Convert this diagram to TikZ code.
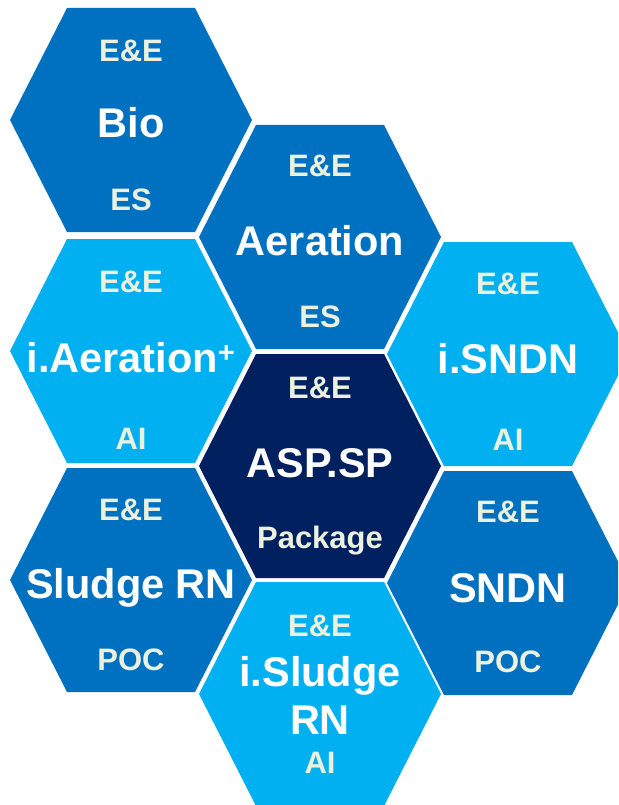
\documentclass[tikz,border=0pt]{standalone}
\usepackage{fontspec}
\setmainfont{Liberation Sans}
\usetikzlibrary{positioning}

\definecolor{midblue}{HTML}{0070C0}
\definecolor{skyblue}{HTML}{00B0F0}
\definecolor{navyblue}{HTML}{002060}
\definecolor{cream}{HTML}{EBF1DE}

\begin{document}
\begin{tikzpicture}[
  x=1pt, y=-1pt,
  cell/.style={fill=#1},
  title/.style={text=white, font=\bfseries\fontsize{41.5}{48}\selectfont, align=center, inner sep=0pt, anchor=base},
  tag/.style={text=cream, font=\bfseries\fontsize{31}{34}\selectfont, inner sep=0pt, anchor=base}
]
\useasboundingbox (0,0) rectangle (618,805);
\clip (0,0) rectangle (618,805);

% hexagon cells: centre x / centre y / colour
\foreach \cx/\cy/\col in {131/120/midblue, 320/237/midblue, 131/351/skyblue,
    508/354/skyblue, 320/466/navyblue, 131/580/midblue, 508/583/midblue, 320/694/skyblue}
  \fill[cell=\col] (\cx,\cy) ++(-121,0) -- ++(57,-112) -- ++(128,0) -- ++(57,112)
    -- ++(-57,112) -- ++(-128,0) -- cycle;

% Bio
\node[tag] (bio-top) at (131,62) {E\&E};
\node[title] (bio) at (131,138) {Bio};
\node[tag] (bio-bot) at (131,211) {ES};

% Aeration
\node[tag] (aer-top) at (320,176) {E\&E};
\node[title] (aer) at (320,255) {Aeration};
\node[tag] (aer-bot) at (320,327) {ES};

% i.Aeration+
\node[tag] (iaer-top) at (131,292) {E\&E};
\node[title] (iaer) at (131,372) {i.Aeration\textsuperscript{+}};
\node[tag] (iaer-bot) at (131,449) {AI};

% i.SNDN
\node[tag] (isndn-top) at (508,294) {E\&E};
\node[title] (isndn) at (508,373) {i.SNDN};
\node[tag] (isndn-bot) at (508,450) {AI};

% ASP.SP
\node[tag] (asp-top) at (320,398) {E\&E};
\node[title] (asp) at (320,477) {ASP.SP};
\node[tag] (asp-bot) at (320,548) {Package};

% Sludge RN
\node[tag] (sludge-top) at (131,520) {E\&E};
\node[title] (sludge) at (131,598) {Sludge RN};
\node[tag] (sludge-bot) at (131,670) {POC};

% SNDN
\node[tag] (sndn-top) at (508,522) {E\&E};
\node[title] (sndn) at (508,602) {SNDN};
\node[tag] (sndn-bot) at (508,672) {POC};

% i.Sludge RN
\node[tag] (isludge-top) at (320,636) {E\&E};
\node[title, anchor=center] (isludge) at (320,695) {i.Sludge\\RN};
\node[tag] (isludge-bot) at (320,773) {AI};
\end{tikzpicture}
\end{document}
